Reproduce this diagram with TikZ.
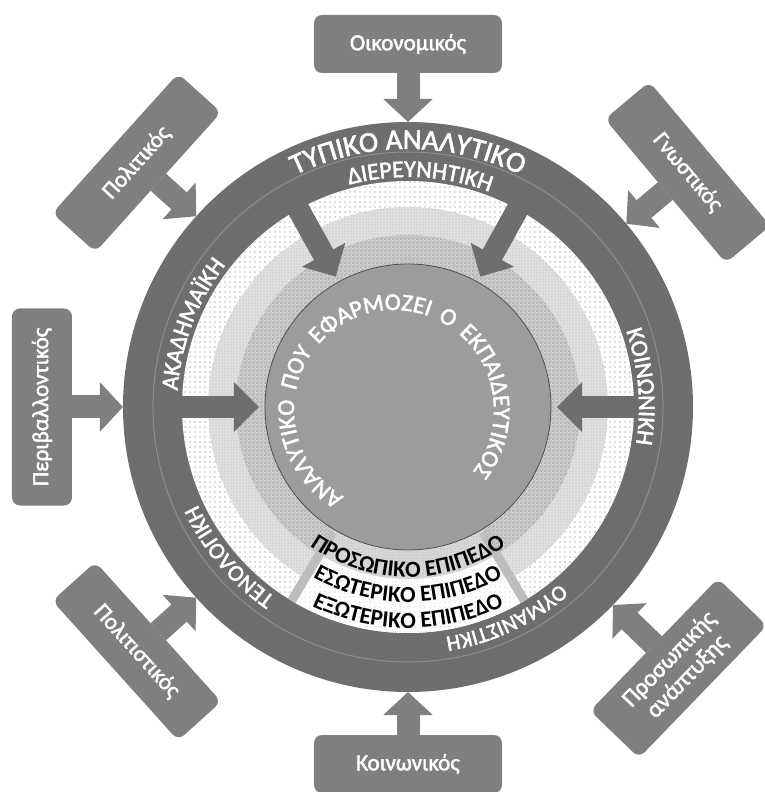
\documentclass[tikz,border=0pt]{standalone}
\usepackage{fontspec}
\setmainfont{Carlito}
\newfontfamily\whitefont{Carlito}[FakeBold=2]
\usetikzlibrary{arrows.meta,patterns,decorations.text}

\definecolor{boxgray}{HTML}{7F7F7F}
\definecolor{ringgray}{HTML}{6E6E6E}
\definecolor{ringline}{HTML}{8E8E8E}
\definecolor{coregray}{HTML}{9C9C9C}
\definecolor{coreedge}{HTML}{505050}
\definecolor{dotgray}{HTML}{B8B8B8}
\definecolor{bandlight}{HTML}{E0E0E0}
\definecolor{bandmid}{HTML}{CDCDCD}
\definecolor{checkgray}{HTML}{AFAFAF}
\definecolor{edgegray}{HTML}{BDBDBD}
\definecolor{wedgeinner}{HTML}{D8D8D8}
\definecolor{wedgedots}{HTML}{E0E0E0}

% textures of the three levels
\pgfdeclarepatternformonly{sparsedots}{\pgfpoint{-1pt}{-1pt}}{\pgfpoint{1pt}{1pt}}{\pgfpoint{5pt}{5pt}}{\pgfpathcircle{\pgfpointorigin}{0.9pt}\pgfusepath{fill}}
\pgfdeclarepatternformonly{finedots}{\pgfpoint{-1pt}{-1pt}}{\pgfpoint{1pt}{1pt}}{\pgfpoint{3pt}{3pt}}{\pgfpathcircle{\pgfpointorigin}{0.7pt}\pgfusepath{fill}}
\pgfdeclarepatternformonly{finecheck}{\pgfpointorigin}{\pgfpoint{4pt}{4pt}}{\pgfpoint{4pt}{4pt}}{\pgfpathrectangle{\pgfpointorigin}{\pgfpoint{2pt}{2pt}}\pgfpathrectangle{\pgfpoint{2pt}{2pt}}{\pgfpoint{2pt}{2pt}}\pgfusepath{fill}}

\tikzset{
  factorbox/.style={rectangle, rounded corners=8pt, fill=boxgray, text=white,
    font=\whitefont\fontsize{23pt}{25pt}\selectfont, minimum width=188pt, minimum height=58pt,
    inner sep=0pt, outer sep=0pt, align=center},
  outarrow/.style={draw=boxgray, line width=23pt, -{Triangle[length=23pt,width=48pt]}},
  inarrow/.style={draw=ringgray, line width=22pt, -{Triangle[length=25pt,width=48pt]}, shorten >=6pt},
  ringtext/.style={decorate, decoration={text along path, text align=center,
    text color=white, text={#1}}},
  leveltext/.style={decorate, decoration={text along path, text align=center,
    text color=black, text={#1}}},
}

\begin{document}
\begin{tikzpicture}
\useasboundingbox (-408pt,-385pt) rectangle (357pt,407pt);

% outer ring of the formal curriculum
\node[circle, minimum size=570pt, inner sep=0pt, outer sep=0pt, fill=ringgray] (ring) at (0,0) {};
\draw[ringline, line width=1pt] (0,0) circle[radius=255pt];

% the three levels
\path[pattern=sparsedots, pattern color=dotgray, preaction={fill=white}] (0,0) circle[radius=226pt];
\path[pattern=finedots, pattern color=dotgray, preaction={fill=bandlight}] (0,0) circle[radius=200pt];
\path[pattern=finecheck, pattern color=checkgray, preaction={fill=bandmid}] (0,0) circle[radius=172pt];

% sector carrying the level names
\path[pattern=finedots, pattern color=dotgray, preaction={fill=wedgeinner}]
  (-121:143pt) arc[start angle=-121, end angle=-59, radius=143pt]
  -- (-59:172pt) arc[start angle=-59, end angle=-121, radius=172pt] -- cycle;
\path[pattern=finedots, pattern color=wedgedots, preaction={fill=white}]
  (-121:172pt) arc[start angle=-121, end angle=-59, radius=172pt]
  -- (-59:198pt) arc[start angle=-59, end angle=-121, radius=198pt] -- cycle;
\path[pattern=sparsedots, pattern color=wedgedots, preaction={fill=white}]
  (-121:198pt) arc[start angle=-121, end angle=-59, radius=198pt]
  -- (-59:226pt) arc[start angle=-59, end angle=-121, radius=226pt] -- cycle;
\draw[edgegray, line width=9pt] (-121:146pt) -- (-121:226pt);
\draw[edgegray, line width=9pt] (-59:146pt) -- (-59:226pt);

% applied curriculum
\node[circle, minimum size=286pt, inner sep=0pt, outer sep=0pt, fill=coregray,
  draw=coreedge, line width=0.8pt] (core) at (0,0) {};

% arrows from the ring to the applied curriculum
\coordinate (iaNW) at (119:232pt);
\coordinate (iaNE) at (61:232pt);
\coordinate (iaW) at (180:232pt);
\coordinate (iaE) at (0:232pt);
\draw[inarrow] (iaNW) -- (core);
\draw[inarrow] (iaNE) -- (core);
\draw[inarrow] (iaW) -- (core);
\draw[inarrow] (iaE) -- (core);

% influencing factors
\node[factorbox] (oik) at (90:363pt) {Οικονομικός};
\node[factorbox, rotate=-50] (gno) at (40:365pt) {Γνωστικός};
\node[factorbox, rotate=48] (pol) at (138:365pt) {Πολιτικός};
\node[factorbox, rotate=90, minimum width=197pt, minimum height=60pt] (per) at (180:366pt) {Περιβαλλοντικός};
\node[factorbox, rotate=-48] (polit) at (-138:365pt) {Πολιτιστικός};
\node[factorbox] (koi) at (-90:357pt) {Κοινωνικός};
\node[factorbox, rotate=46, minimum width=184pt, minimum height=68pt,
  font=\whitefont\fontsize{24pt}{25pt}\selectfont] (pros) at (-44:376pt) {Προσωπικής\\ανάπτυξης};

\draw[outarrow] (oik) -- (ring);
\draw[outarrow] (gno) -- (ring);
\draw[outarrow] (pol) -- (ring);
\draw[outarrow] (per) -- (ring);
\draw[outarrow] (polit) -- (ring);
\draw[outarrow] (koi) -- (ring);
\draw[outarrow] (pros) -- (ring);

% ring labels
\path[ringtext={|\whitefont\fontsize{29pt}{29pt}\selectfont|ΤΥΠΙΚΟ ΑΝΑΛΥΤΙΚΟ}]
  (150:258pt) arc[start angle=150, end angle=30, radius=258pt];
\path[ringtext={|\whitefont\fontsize{24pt}{24pt}\selectfont|ΔΙΕΡΕΥΝΗΤΙΚΗ}]
  (147:230pt) arc[start angle=147, end angle=27, radius=230pt];
\path[ringtext={|\whitefont\fontsize{24pt}{24pt}\selectfont|ΚΟΙΝΩΝΙΚΗ}]
  (65:231pt) arc[start angle=65, end angle=-55, radius=231pt];
\path[ringtext={|\whitefont\fontsize{22pt}{22pt}\selectfont|ΟΥΜΑΝΙΣΤΙΚΗ}]
  (-5:233pt) arc[start angle=-5, end angle=-125, radius=233pt];
\path[ringtext={|\whitefont\fontsize{23pt}{23pt}\selectfont|ΤΕΝΟΛΟΓΙΚΗ}]
  (-80:232pt) arc[start angle=-80, end angle=-200, radius=232pt];
\path[ringtext={|\whitefont\fontsize{24pt}{24pt}\selectfont|ΑΚΑΔΗΜΑΪΚΗ}]
  (219:231pt) arc[start angle=219, end angle=99, radius=231pt];

% level names
\path[leveltext={|\bfseries\fontsize{23pt}{23pt}\selectfont|ΠΡΟΣΩΠΙΚΟ ΕΠΙΠΕΔΟ}]
  (-150:170pt) arc[start angle=-150, end angle=-30, radius=170pt];
\path[leveltext={|\bfseries\fontsize{23pt}{23pt}\selectfont|ΕΣΩΤΕΡΙΚΟ ΕΠΙΠΕΔΟ}]
  (-150:195pt) arc[start angle=-150, end angle=-30, radius=195pt];
\path[leveltext={|\bfseries\fontsize{23pt}{23pt}\selectfont|ΕΞΩΤΕΡΙΚΟ ΕΠΙΠΕΔΟ}]
  (-150:221pt) arc[start angle=-150, end angle=-30, radius=221pt];

% title of the applied curriculum
\path[decorate, decoration={text along path, text align={fit to path stretching spaces},
    text color=white, text={|\whitefont\fontsize{24pt}{24pt}\selectfont|ΑΝΑΛΥΤΙΚΟ ΠΟΥ ΕΦΑΡΜΟΖΕΙ Ο ΕΚΠΑΙΔΕΥΤΙΚΟΣ}}]
  (-64pt,-89.6pt) arc[start angle=240, end angle=-38, radius=100pt];
\end{tikzpicture}
\end{document}
